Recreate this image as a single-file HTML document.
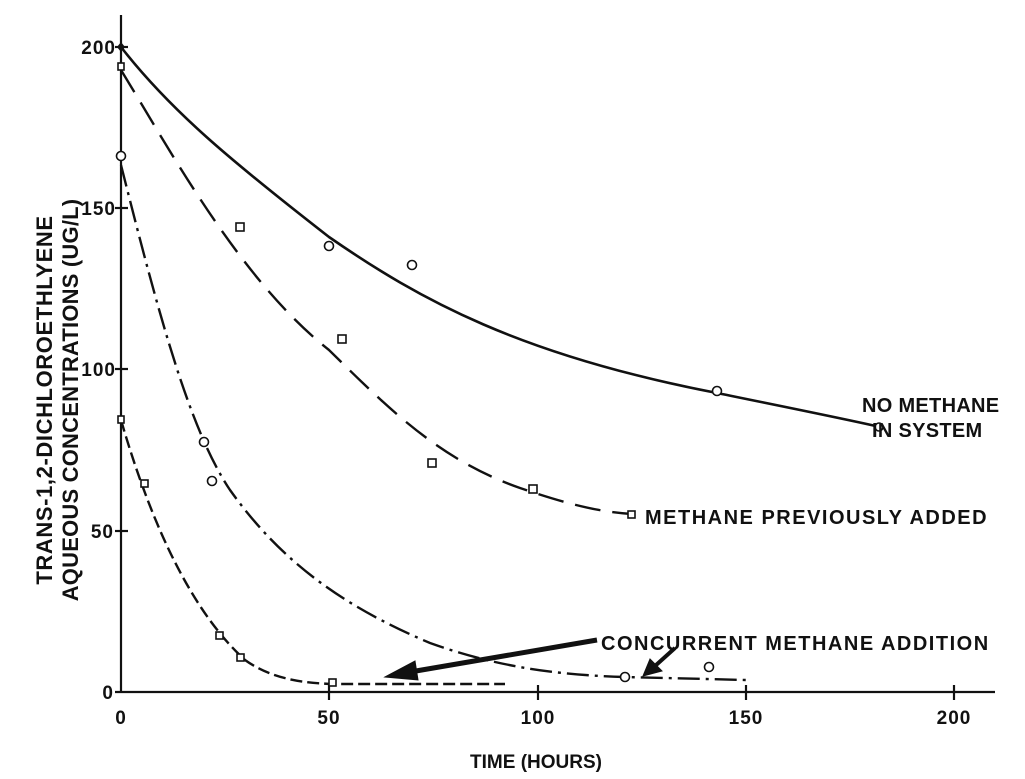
<!DOCTYPE html>
<html><head><meta charset="utf-8"><style>body{margin:0;background:#fff}svg{display:block}text{font-family:"Liberation Sans",sans-serif;font-weight:bold;fill:#111}</style></head><body>
<svg width="1025" height="779" viewBox="0 0 1025 779" xmlns="http://www.w3.org/2000/svg">
<g stroke="#111" stroke-width="2.2" fill="none">
<line x1="121" y1="15" x2="121" y2="692"/>
<line x1="115" y1="692" x2="995" y2="692"/>
<line x1="115" y1="47" x2="128" y2="47"/><line x1="115" y1="208" x2="128" y2="208"/><line x1="115" y1="369" x2="128" y2="369"/><line x1="115" y1="531" x2="128" y2="531"/>
<line x1="329" y1="685" x2="329" y2="700"/><line x1="538" y1="685" x2="538" y2="700"/><line x1="746" y1="685" x2="746" y2="700"/><line x1="954" y1="685" x2="954" y2="700"/>
</g>
<g font-size="19" text-anchor="end" letter-spacing="1"><text x="116" y="54">200</text><text x="116" y="215">150</text><text x="116" y="376">100</text><text x="114" y="538">50</text><text x="114" y="699">0</text></g>
<g font-size="19" text-anchor="middle" letter-spacing="1"><text x="121" y="724">0</text><text x="329" y="724">50</text><text x="538" y="724">100</text><text x="746" y="724">150</text><text x="954" y="724">200</text></g>
<text x="536" y="768" font-size="19" text-anchor="middle">TIME (HOURS)</text>
<text transform="translate(52,400) rotate(-90)" font-size="22" letter-spacing="0.6" text-anchor="middle">TRANS-1,2-DICHLOROETHLYENE</text>
<text transform="translate(78,400) rotate(-90)" font-size="22" letter-spacing="0.2" text-anchor="middle">AQUEOUS CONCENTRATIONS (UG/L)</text>
<g fill="none" stroke="#111">
<path d="M121,47 C170,110 230,160 329,237 C420,300 520,355 717,393 C800,410 850,420 880,427" stroke-width="2.6"/>
<path d="M121,70 C170,150 240,280 329,350 C390,410 440,460 520,488 C570,505 600,512 632,514" stroke-width="2.4" stroke-dasharray="26,12"/>
<path d="M121,165 C160,320 190,430 230,490 C280,560 340,605 430,643 C500,668 560,675 625,677 L746,680" stroke-width="2.4" stroke-dasharray="22,6,3,6"/>
<path d="M121,420 C150,520 190,610 245,660 C270,678 300,683 333,684 L505,684" stroke-width="2.4" stroke-dasharray="12,5"/>
</g>
<g fill="#fff" stroke="#111" stroke-width="1.6">
<circle cx="329" cy="246" r="4.5"/><circle cx="412" cy="265" r="4.5"/><circle cx="717" cy="391" r="4.5"/><circle cx="879" cy="427" r="4"/>
<circle cx="121" cy="156" r="4.5"/><circle cx="204" cy="442" r="4.5"/><circle cx="212" cy="481" r="4.5"/><circle cx="625" cy="677" r="4.5"/><circle cx="709" cy="667" r="4.5"/>
<rect x="118" y="63" width="6" height="7"/><rect x="236" y="223" width="8" height="8"/><rect x="338" y="335" width="8" height="8"/><rect x="428" y="459" width="8" height="8"/><rect x="529" y="485" width="8" height="8"/><rect x="628" y="511" width="7" height="7"/>
<rect x="118" y="416" width="6" height="7"/><rect x="141" y="480" width="7" height="7"/><rect x="216" y="632" width="7" height="7"/><rect x="237" y="654" width="7" height="7"/><rect x="329" y="679" width="7" height="7"/>
</g>
<path d="M117,47 L121,42 L125,47 L121,52 Z" fill="#111"/>
<g fill="#111" stroke="#111">
<path d="M597,640 L410,672" stroke-width="5"/><path d="M385,677 L415,661 L418,680 Z"/>
<path d="M675,648 L655,666" stroke-width="4"/><path d="M643,676 L650,659 L662,671 Z"/>
</g>
<g font-size="20" letter-spacing="1.5"><text x="862" y="412" letter-spacing="0.3">NO METHANE</text><text x="872" y="437" letter-spacing="0.3">IN SYSTEM</text><text x="645" y="524">METHANE PREVIOUSLY ADDED</text><text x="601" y="650">CONCURRENT METHANE ADDITION</text></g>
</svg></body></html>
